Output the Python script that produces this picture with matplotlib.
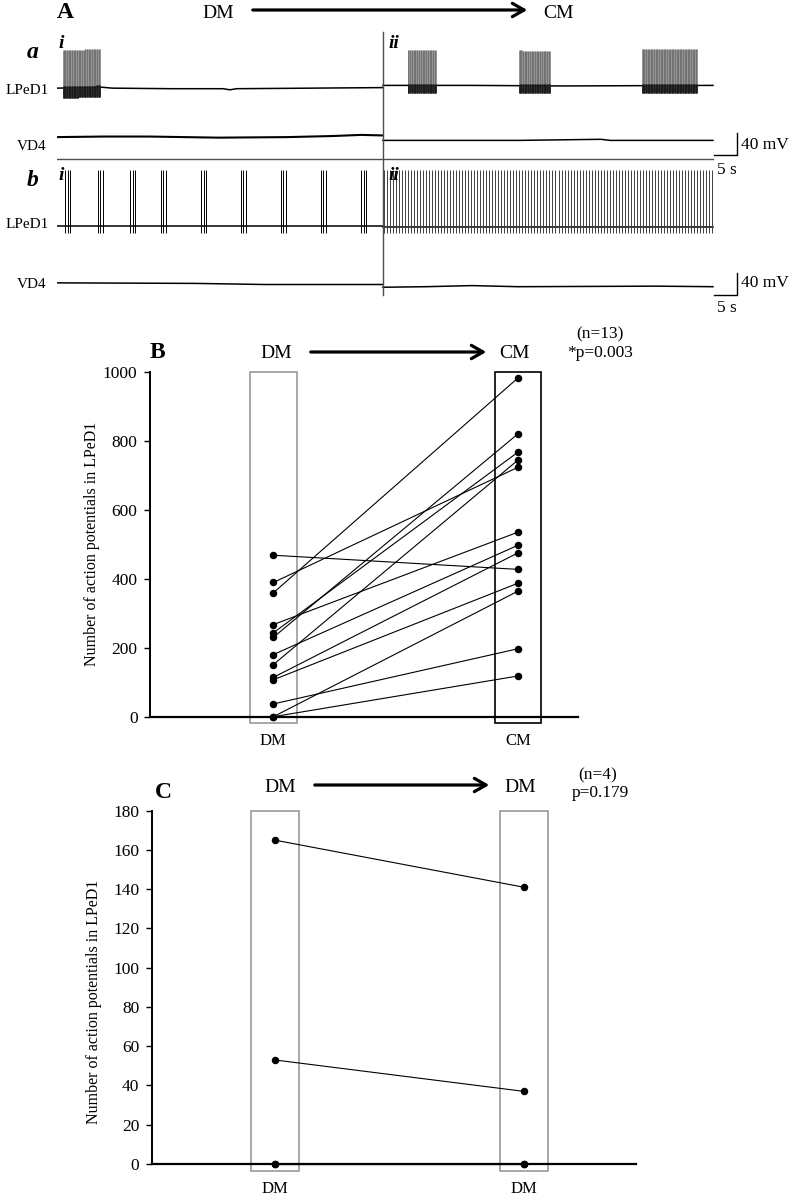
import numpy as np
import matplotlib.pyplot as plt
from matplotlib.patches import Rectangle, FancyArrowPatch

plt.rcParams['font.family'] = ['Liberation Serif', 'DejaVu Serif']

W, H = 792, 1199

# ---- panel B: LPeD1 spike counts, DM -> CM (n=13)
b_dm = [468, 389, 359, 267, 243, 230, 180, 151, 114, 107, 37, 0, 0]
b_cm = [427, 723, 982, 535, 767, 820, 497, 744, 475, 387, 197, 364, 118]

# ---- panel C: DM -> DM (n=4)
c_dm1 = [165, 53, 0, 0]
c_dm2 = [141, 37, 0, 0]

# ---- panel A traces (time in s, mV relative to resting level)
# a) LPeD1 bursts: (start, end, number of spikes)
a_bursts_dm = [(1.3, 9.3, 60)]
a_bursts_cm = [(76.1, 82.2, 45), (100.2, 106.9, 50), (126.9, 138.8, 90)]
a_lp_dm_t = [0, 9.3, 12, 25, 36, 37.5, 39, 55, 70.7]
a_lp_dm_v = [0, 2, 0, -1, -1, -3, -1, 0, 1]
a_lp_cm_t = [70.7, 90, 110, 142.3]
a_lp_cm_v = [5, 5, 4, 5]
a_vd_dm_t = [0, 10, 20, 35, 50, 60, 66, 70.7]
a_vd_dm_v = [0, 1, 1, -1, 0, 2, 4, 3]
a_vd_cm_t = [70.7, 100, 118, 120, 142.3]
a_vd_cm_v = [-6, -6, -4, -6, -6]

# b) LPeD1 spike times under DM, tonic firing under CM
b_spikes_dm = [1.8, 2.3, 2.8, 8.9, 9.4, 9.9, 15.9, 16.4, 16.9, 22.6, 23.1, 23.6,
               31.3, 31.8, 32.3, 39.9, 40.4, 40.9, 48.6, 49.1, 49.6, 57.3, 57.8,
               58.3, 66.0, 66.5, 67.0]
b_tonic_cm = (70.9, 142.1, 110)
b_lp_dm_t = [0, 70.7]
b_lp_dm_v = [0, 0]
b_lp_cm_t = [70.7, 142.3]
b_lp_cm_v = [-2, -2]
b_vd_dm_t = [0, 30, 45, 70.7]
b_vd_dm_v = [0, -1, -3, -3]
b_vd_cm_t = [70.7, 80, 90, 100, 130, 142.3]
b_vd_cm_v = [-8, -7, -5, -7, -6, -7]


def fx(px):
    return px / W


def fy(py):
    return 1 - py / H


def box(l, r, t, b):
    return [fx(l), fy(b), fx(r) - fx(l), fy(t) - fy(b)]


fig = plt.figure(figsize=(7.92, 11.99), dpi=100)


def arrow(x0, x1, y):
    fig.add_artist(FancyArrowPatch((fx(x0), fy(y)), (fx(x1), fy(y)),
                                   transform=fig.transFigure,
                                   arrowstyle='->,head_length=0.7,head_width=0.4',
                                   lw=2.3, color='k', mutation_scale=12))


def ftext(x, y, s, **kw):
    kw.setdefault('ha', 'center')
    kw.setdefault('va', 'center')
    fig.text(fx(x), fy(y), s, **kw)


# ================= panel A =================
ax = fig.add_axes(box(57, 760, 30, 312))
ax.set_xlim(0, 703 / 4.61)
ax.set_ylim(0, 282 / 0.55)
ax.axis('off')

OFF_A_LP, OFF_A_VD, OFF_B_LP, OFF_B_VD = 407, 318, 156, 53


def bursts(blist, off, bt, bv, peak, trough):
    for i, (s, e, n) in enumerate(blist):
        ts = np.linspace(s, e, n)
        base = off + np.interp(ts, bt, bv)
        pk = peak[i] if isinstance(peak, list) else peak
        ax.vlines(ts, base + trough, base + pk, color='0.4', lw=0.5)
        ax.vlines(ts, base + trough, base + 3, color='0.1', lw=0.6)


ax.plot(a_lp_dm_t, np.array(a_lp_dm_v) + OFF_A_LP, 'k', lw=1.1)
ax.plot(a_lp_cm_t, np.array(a_lp_cm_v) + OFF_A_LP, 'k', lw=1.1)
bursts(a_bursts_dm, OFF_A_LP, a_lp_dm_t, a_lp_dm_v, 69, -18)
bursts(a_bursts_cm, OFF_A_LP, a_lp_cm_t, a_lp_cm_v, [64, 64, 67], -13)
ax.plot(a_vd_dm_t, np.array(a_vd_dm_v) + OFF_A_VD, 'k', lw=1.5)
ax.plot(a_vd_cm_t, np.array(a_vd_cm_v) + OFF_A_VD, 'k', lw=1.1)

ax.plot(b_lp_dm_t, np.array(b_lp_dm_v) + OFF_B_LP, 'k', lw=1.1)
ax.plot(b_lp_cm_t, np.array(b_lp_cm_v) + OFF_B_LP, 'k', lw=1.1)
ax.vlines(b_spikes_dm, OFF_B_LP - 13, OFF_B_LP + 102, color='k', lw=0.7)
s, e, n = b_tonic_cm
ts = np.linspace(s, e, n)
ax.vlines(ts, OFF_B_LP + b_lp_cm_v[0] - 11, OFF_B_LP + b_lp_cm_v[0] + 104,
          color='0.25', lw=0.7)
ax.plot(b_vd_dm_t, np.array(b_vd_dm_v) + OFF_B_VD, 'k', lw=1.1)
ax.plot(b_vd_cm_t, np.array(b_vd_cm_v) + OFF_B_VD, 'k', lw=1.1)

# divider and separator
ax.plot([70.7, 70.7], [31, 509], color='0.3', lw=1)
ax.plot([0, 142.3], [278, 278], color='0.3', lw=1)

# scale bars (5 s, 40 mV)
for y0 in (285.5, 30.9):
    ax.plot([142.5, 147.5, 147.5], [y0, y0, y0 + 40], 'k', lw=1)

ftext(65, 12, 'A', fontsize=17, fontweight='bold')
ftext(218, 14, 'DM', fontsize=14)
ftext(559, 14, 'CM', fontsize=14)
arrow(250, 530, 10)
ftext(33, 52, 'a', fontsize=17, fontweight='bold', style='italic')
ftext(33, 180, 'b', fontsize=17, fontweight='bold', style='italic')
ftext(61, 43, 'i', fontsize=14, fontweight='bold', style='italic')
ftext(61, 175, 'i', fontsize=14, fontweight='bold', style='italic')
ftext(394, 43, 'ii', fontsize=14, fontweight='bold', style='italic')
ftext(394, 176, 'ii', fontsize=14, fontweight='bold', style='italic')
for y in (90, 225):
    ftext(27, y, 'LPeD1', fontsize=11)
for y in (147, 285):
    ftext(32, y, 'VD4', fontsize=11)
for y in (145, 283):
    ftext(741, y, '40 mV', fontsize=12.5, ha='left')
for y in (170, 308):
    ftext(727, y, '5 s', fontsize=12.5)


# ================= panels B and C =================
def pair_panel(rect, ymax, left, right, yticks, box_bottom, right_color, xlim,
               lab_y):
    axp = fig.add_axes(rect)
    for l, r in zip(left, right):
        axp.plot([1, 2], [l, r], 'k-', lw=0.8, clip_on=False)
    axp.plot([1] * len(left), left, 'ko', ms=4.4, clip_on=False, zorder=5)
    axp.plot([2] * len(right), right, 'ko', ms=4.4, clip_on=False, zorder=5)
    for xc, col in ((1, '0.6'), (2, right_color)):
        axp.add_patch(Rectangle((xc - 0.095, box_bottom), 0.19, ymax - box_bottom,
                                fill=False, ec=col, lw=1.2, clip_on=False))
    axp.set_xlim(*xlim)
    axp.set_ylim(0, ymax)
    axp.set_yticks(yticks)
    axp.tick_params(axis='y', labelsize=12.5, length=4, width=1, pad=5)
    axp.set_xticks([1, 2])
    axp.tick_params(axis='x', length=0, pad=12, labelsize=12)
    for sp in ('top', 'right'):
        axp.spines[sp].set_visible(False)
    axp.spines['left'].set_linewidth(1.4)
    axp.spines['bottom'].set_linewidth(1.6)
    axp.set_ylabel('Number of action potentials in LPeD1', fontsize=11.5)
    axp.yaxis.set_label_coords(lab_y[0], lab_y[1])
    return axp


axB = pair_panel(box(150, 578, 371.7, 716.7), 1000, b_dm, b_cm,
                 range(0, 1001, 200), -19, 'k', (0.496, 2.245), (-0.117, 0.5))
axB.set_xticklabels(['DM', 'CM'])
ftext(157, 352, 'B', fontsize=17, fontweight='bold')
ftext(276, 353, 'DM', fontsize=14)
ftext(515, 353, 'CM', fontsize=14)
arrow(308, 489, 352)
ftext(600, 334, '(n=13)', fontsize=12.5)
ftext(600, 353, '*p=0.003', fontsize=12.5)

axC = pair_panel(box(151.7, 636, 810.7, 1164), 180, c_dm1, c_dm2,
                 range(0, 181, 20), -3.4, '0.6', (0.505, 2.45), (-0.103, 0.46))
axC.set_xticklabels(['DM', 'DM'])
ftext(163, 792, 'C', fontsize=17, fontweight='bold')
ftext(280, 788, 'DM', fontsize=14)
ftext(520, 788, 'DM', fontsize=14)
arrow(312, 492, 785)
ftext(598, 775, '(n=4)', fontsize=12.5)
ftext(600, 793, 'p=0.179', fontsize=12.5)

plt.savefig('out.png', dpi=100)
